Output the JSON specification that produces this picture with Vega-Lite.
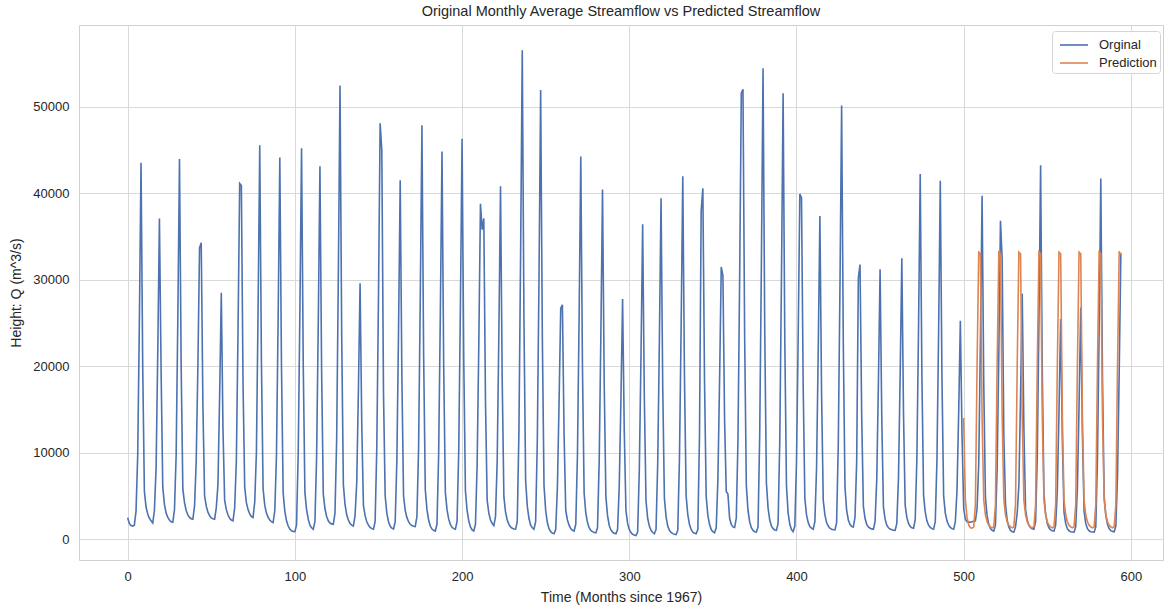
{"$schema":"https://vega.github.io/schema/vega-lite/v6.json","width":1084,"height":535,"autosize":{"type":"none"},"padding":{"left":79,"top":25,"right":1,"bottom":45},"background":"white","title":{"text":"Original Monthly Average Streamflow vs Predicted Streamflow","fontSize":14.5,"font":"Liberation Sans","fontWeight":"normal","color":"#262626","offset":6},
"data":{"values":[
{"m":0,"Orginal":2450},{"m":1,"Orginal":1800},{"m":2,"Orginal":1550},{"m":3,"Orginal":1500},{"m":4,"Orginal":1600},{"m":5,"Orginal":3200},{"m":6,"Orginal":9600},{"m":7,"Orginal":25000},{"m":8,"Orginal":43560},{"m":9,"Orginal":20000},
{"m":10,"Orginal":5500},{"m":11,"Orginal":3700},{"m":12,"Orginal":2900},{"m":13,"Orginal":2400},{"m":14,"Orginal":2100},{"m":15,"Orginal":1850},{"m":16,"Orginal":3300},{"m":17,"Orginal":8200},{"m":18,"Orginal":21500},{"m":19,"Orginal":37100},
{"m":20,"Orginal":19500},{"m":21,"Orginal":6000},{"m":22,"Orginal":4000},{"m":23,"Orginal":3000},{"m":24,"Orginal":2500},{"m":25,"Orginal":2200},{"m":26,"Orginal":2000},{"m":27,"Orginal":1950},{"m":28,"Orginal":3400},{"m":29,"Orginal":9700},
{"m":30,"Orginal":25500},{"m":31,"Orginal":43970},{"m":32,"Orginal":20000},{"m":33,"Orginal":5800},{"m":34,"Orginal":4200},{"m":35,"Orginal":3300},{"m":36,"Orginal":2800},{"m":37,"Orginal":2500},{"m":38,"Orginal":2350},{"m":39,"Orginal":2300},
{"m":40,"Orginal":3800},{"m":41,"Orginal":9000},{"m":42,"Orginal":20000},{"m":43,"Orginal":33700},{"m":44,"Orginal":34300},{"m":45,"Orginal":15500},{"m":46,"Orginal":5000},{"m":47,"Orginal":3800},{"m":48,"Orginal":3100},{"m":49,"Orginal":2700},
{"m":50,"Orginal":2450},{"m":51,"Orginal":2350},{"m":52,"Orginal":2300},{"m":53,"Orginal":3600},{"m":54,"Orginal":6300},{"m":55,"Orginal":16500},{"m":56,"Orginal":28500},{"m":57,"Orginal":12800},{"m":58,"Orginal":4500},{"m":59,"Orginal":3400},
{"m":60,"Orginal":2800},{"m":61,"Orginal":2400},{"m":62,"Orginal":2200},{"m":63,"Orginal":2100},{"m":64,"Orginal":3600},{"m":65,"Orginal":9000},{"m":66,"Orginal":24000},{"m":67,"Orginal":41150},{"m":68,"Orginal":40900},{"m":69,"Orginal":18000},
{"m":70,"Orginal":6000},{"m":71,"Orginal":4200},{"m":72,"Orginal":3400},{"m":73,"Orginal":2900},{"m":74,"Orginal":2600},{"m":75,"Orginal":2500},{"m":76,"Orginal":4300},{"m":77,"Orginal":10000},{"m":78,"Orginal":26500},{"m":79,"Orginal":45580},
{"m":80,"Orginal":20500},{"m":81,"Orginal":5800},{"m":82,"Orginal":3900},{"m":83,"Orginal":3000},{"m":84,"Orginal":2500},{"m":85,"Orginal":2200},{"m":86,"Orginal":2000},{"m":87,"Orginal":1900},{"m":88,"Orginal":3300},{"m":89,"Orginal":9700},
{"m":90,"Orginal":25600},{"m":91,"Orginal":44140},{"m":92,"Orginal":19900},{"m":93,"Orginal":5300},{"m":94,"Orginal":3200},{"m":95,"Orginal":2100},{"m":96,"Orginal":1500},{"m":97,"Orginal":1150},{"m":98,"Orginal":950},{"m":99,"Orginal":870},
{"m":100,"Orginal":850},{"m":101,"Orginal":1600},{"m":102,"Orginal":9900},{"m":103,"Orginal":26200},{"m":104,"Orginal":45230},{"m":105,"Orginal":20400},{"m":106,"Orginal":5400},{"m":107,"Orginal":3400},{"m":108,"Orginal":2300},{"m":109,"Orginal":1600},
{"m":110,"Orginal":1300},{"m":111,"Orginal":1130},{"m":112,"Orginal":2000},{"m":113,"Orginal":9500},{"m":114,"Orginal":25000},{"m":115,"Orginal":43130},{"m":116,"Orginal":19400},{"m":117,"Orginal":5200},{"m":118,"Orginal":3500},{"m":119,"Orginal":2600},
{"m":120,"Orginal":2100},{"m":121,"Orginal":1850},{"m":122,"Orginal":1750},{"m":123,"Orginal":1700},{"m":124,"Orginal":3000},{"m":125,"Orginal":11500},{"m":126,"Orginal":30500},{"m":127,"Orginal":52500},{"m":128,"Orginal":23600},{"m":129,"Orginal":6300},
{"m":130,"Orginal":4000},{"m":131,"Orginal":2800},{"m":132,"Orginal":2200},{"m":133,"Orginal":1800},{"m":134,"Orginal":1600},{"m":135,"Orginal":1500},{"m":136,"Orginal":2700},{"m":137,"Orginal":6500},{"m":138,"Orginal":17200},{"m":139,"Orginal":29590},
{"m":140,"Orginal":13300},{"m":141,"Orginal":3900},{"m":142,"Orginal":2700},{"m":143,"Orginal":2000},{"m":144,"Orginal":1600},{"m":145,"Orginal":1350},{"m":146,"Orginal":1200},{"m":147,"Orginal":1130},{"m":148,"Orginal":2000},{"m":149,"Orginal":10600},
{"m":150,"Orginal":27900},{"m":151,"Orginal":48120},{"m":152,"Orginal":45000},{"m":153,"Orginal":17000},{"m":154,"Orginal":5000},{"m":155,"Orginal":3000},{"m":156,"Orginal":2000},{"m":157,"Orginal":1500},{"m":158,"Orginal":1250},{"m":159,"Orginal":1150},
{"m":160,"Orginal":2000},{"m":161,"Orginal":9100},{"m":162,"Orginal":24100},{"m":163,"Orginal":41530},{"m":164,"Orginal":18700},{"m":165,"Orginal":5000},{"m":166,"Orginal":3300},{"m":167,"Orginal":2500},{"m":168,"Orginal":2000},{"m":169,"Orginal":1700},
{"m":170,"Orginal":1550},{"m":171,"Orginal":1480},{"m":172,"Orginal":1450},{"m":173,"Orginal":2600},{"m":174,"Orginal":10500},{"m":175,"Orginal":27800},{"m":176,"Orginal":47880},{"m":177,"Orginal":21500},{"m":178,"Orginal":5700},{"m":179,"Orginal":3400},
{"m":180,"Orginal":2200},{"m":181,"Orginal":1500},{"m":182,"Orginal":1150},{"m":183,"Orginal":1000},{"m":184,"Orginal":920},{"m":185,"Orginal":1700},{"m":186,"Orginal":9900},{"m":187,"Orginal":26000},{"m":188,"Orginal":44860},{"m":189,"Orginal":20200},
{"m":190,"Orginal":5400},{"m":191,"Orginal":3400},{"m":192,"Orginal":2300},{"m":193,"Orginal":1700},{"m":194,"Orginal":1350},{"m":195,"Orginal":1200},{"m":196,"Orginal":1130},{"m":197,"Orginal":2000},{"m":198,"Orginal":10200},{"m":199,"Orginal":26900},
{"m":200,"Orginal":46310},{"m":201,"Orginal":20800},{"m":202,"Orginal":5600},{"m":203,"Orginal":3300},{"m":204,"Orginal":2100},{"m":205,"Orginal":1400},{"m":206,"Orginal":1050},{"m":207,"Orginal":920},{"m":208,"Orginal":1700},{"m":209,"Orginal":8500},
{"m":210,"Orginal":22500},{"m":211,"Orginal":38800},{"m":212,"Orginal":35800},{"m":213,"Orginal":37100},{"m":214,"Orginal":16000},{"m":215,"Orginal":4500},{"m":216,"Orginal":3000},{"m":217,"Orginal":2200},{"m":218,"Orginal":1800},{"m":219,"Orginal":1550},
{"m":220,"Orginal":2600},{"m":221,"Orginal":9000},{"m":222,"Orginal":23700},{"m":223,"Orginal":40840},{"m":224,"Orginal":18400},{"m":225,"Orginal":4900},{"m":226,"Orginal":3100},{"m":227,"Orginal":2200},{"m":228,"Orginal":1700},{"m":229,"Orginal":1400},
{"m":230,"Orginal":1250},{"m":231,"Orginal":1150},{"m":232,"Orginal":1130},{"m":233,"Orginal":2000},{"m":234,"Orginal":12400},{"m":235,"Orginal":32800},{"m":236,"Orginal":56560},{"m":237,"Orginal":25500},{"m":238,"Orginal":6800},{"m":239,"Orginal":3800},
{"m":240,"Orginal":2400},{"m":241,"Orginal":1600},{"m":242,"Orginal":1300},{"m":243,"Orginal":1130},{"m":244,"Orginal":2000},{"m":245,"Orginal":11400},{"m":246,"Orginal":30100},{"m":247,"Orginal":51980},{"m":248,"Orginal":23400},{"m":249,"Orginal":6200},
{"m":250,"Orginal":3300},{"m":251,"Orginal":1900},{"m":252,"Orginal":1200},{"m":253,"Orginal":850},{"m":254,"Orginal":680},{"m":255,"Orginal":600},{"m":256,"Orginal":1100},{"m":257,"Orginal":5900},{"m":258,"Orginal":15700},{"m":259,"Orginal":26700},
{"m":260,"Orginal":27100},{"m":261,"Orginal":12200},{"m":262,"Orginal":3300},{"m":263,"Orginal":2200},{"m":264,"Orginal":1600},{"m":265,"Orginal":1200},{"m":266,"Orginal":1000},{"m":267,"Orginal":920},{"m":268,"Orginal":1700},{"m":269,"Orginal":9700},
{"m":270,"Orginal":25700},{"m":271,"Orginal":44260},{"m":272,"Orginal":19900},{"m":273,"Orginal":5300},{"m":274,"Orginal":3000},{"m":275,"Orginal":1900},{"m":276,"Orginal":1300},{"m":277,"Orginal":1000},{"m":278,"Orginal":850},{"m":279,"Orginal":760},
{"m":280,"Orginal":720},{"m":281,"Orginal":1300},{"m":282,"Orginal":8900},{"m":283,"Orginal":23500},{"m":284,"Orginal":40440},{"m":285,"Orginal":18200},{"m":286,"Orginal":4900},{"m":287,"Orginal":2700},{"m":288,"Orginal":1600},{"m":289,"Orginal":1050},
{"m":290,"Orginal":800},{"m":291,"Orginal":650},{"m":292,"Orginal":600},{"m":293,"Orginal":1100},{"m":294,"Orginal":6100},{"m":295,"Orginal":16100},{"m":296,"Orginal":27780},{"m":297,"Orginal":12500},{"m":298,"Orginal":3300},{"m":299,"Orginal":1800},
{"m":300,"Orginal":1100},{"m":301,"Orginal":750},{"m":302,"Orginal":550},{"m":303,"Orginal":450},{"m":304,"Orginal":400},{"m":305,"Orginal":800},{"m":306,"Orginal":8000},{"m":307,"Orginal":21100},{"m":308,"Orginal":36420},{"m":309,"Orginal":16400},
{"m":310,"Orginal":4400},{"m":311,"Orginal":2400},{"m":312,"Orginal":1500},{"m":313,"Orginal":1000},{"m":314,"Orginal":750},{"m":315,"Orginal":600},{"m":316,"Orginal":1100},{"m":317,"Orginal":8700},{"m":318,"Orginal":22900},{"m":319,"Orginal":39440},
{"m":320,"Orginal":17700},{"m":321,"Orginal":4700},{"m":322,"Orginal":2600},{"m":323,"Orginal":1500},{"m":324,"Orginal":1000},{"m":325,"Orginal":750},{"m":326,"Orginal":620},{"m":327,"Orginal":550},{"m":328,"Orginal":520},{"m":329,"Orginal":1000},
{"m":330,"Orginal":9200},{"m":331,"Orginal":24300},{"m":332,"Orginal":41970},{"m":333,"Orginal":18900},{"m":334,"Orginal":5000},{"m":335,"Orginal":2800},{"m":336,"Orginal":1700},{"m":337,"Orginal":1100},{"m":338,"Orginal":800},{"m":339,"Orginal":650},
{"m":340,"Orginal":600},{"m":341,"Orginal":1100},{"m":342,"Orginal":12000},{"m":343,"Orginal":38000},{"m":344,"Orginal":40600},{"m":345,"Orginal":18300},{"m":346,"Orginal":4900},{"m":347,"Orginal":2700},{"m":348,"Orginal":1700},{"m":349,"Orginal":1100},
{"m":350,"Orginal":850},{"m":351,"Orginal":720},{"m":352,"Orginal":1300},{"m":353,"Orginal":6900},{"m":354,"Orginal":18300},{"m":355,"Orginal":31480},{"m":356,"Orginal":30500},{"m":357,"Orginal":13700},{"m":358,"Orginal":5500},{"m":359,"Orginal":5200},
{"m":360,"Orginal":2400},{"m":361,"Orginal":1700},{"m":362,"Orginal":1400},{"m":363,"Orginal":1330},{"m":364,"Orginal":2400},{"m":365,"Orginal":11400},{"m":366,"Orginal":30000},{"m":367,"Orginal":51600},{"m":368,"Orginal":52060},{"m":369,"Orginal":23400},
{"m":370,"Orginal":6200},{"m":371,"Orginal":3300},{"m":372,"Orginal":2000},{"m":373,"Orginal":1300},{"m":374,"Orginal":1000},{"m":375,"Orginal":850},{"m":376,"Orginal":800},{"m":377,"Orginal":1400},{"m":378,"Orginal":12000},{"m":379,"Orginal":31600},
{"m":380,"Orginal":54470},{"m":381,"Orginal":24500},{"m":382,"Orginal":6500},{"m":383,"Orginal":3600},{"m":384,"Orginal":2200},{"m":385,"Orginal":1500},{"m":386,"Orginal":1200},{"m":387,"Orginal":1050},{"m":388,"Orginal":1000},{"m":389,"Orginal":1800},
{"m":390,"Orginal":11300},{"m":391,"Orginal":29900},{"m":392,"Orginal":51580},{"m":393,"Orginal":23200},{"m":394,"Orginal":6200},{"m":395,"Orginal":3000},{"m":396,"Orginal":1700},{"m":397,"Orginal":1100},{"m":398,"Orginal":860},{"m":399,"Orginal":1500},
{"m":400,"Orginal":8800},{"m":401,"Orginal":23200},{"m":402,"Orginal":39920},{"m":403,"Orginal":39500},{"m":404,"Orginal":17800},{"m":405,"Orginal":4700},{"m":406,"Orginal":2800},{"m":407,"Orginal":1900},{"m":408,"Orginal":1450},{"m":409,"Orginal":1250},
{"m":410,"Orginal":1130},{"m":411,"Orginal":2000},{"m":412,"Orginal":8200},{"m":413,"Orginal":21700},{"m":414,"Orginal":37390},{"m":415,"Orginal":16800},{"m":416,"Orginal":4500},{"m":417,"Orginal":2800},{"m":418,"Orginal":1900},{"m":419,"Orginal":1500},
{"m":420,"Orginal":1250},{"m":421,"Orginal":1120},{"m":422,"Orginal":1070},{"m":423,"Orginal":1050},{"m":424,"Orginal":1900},{"m":425,"Orginal":11000},{"m":426,"Orginal":29100},{"m":427,"Orginal":50170},{"m":428,"Orginal":22600},{"m":429,"Orginal":6000},
{"m":430,"Orginal":3300},{"m":431,"Orginal":2200},{"m":432,"Orginal":1700},{"m":433,"Orginal":1450},{"m":434,"Orginal":1400},{"m":435,"Orginal":2500},{"m":436,"Orginal":9000},{"m":437,"Orginal":30200},{"m":438,"Orginal":31760},{"m":439,"Orginal":14300},
{"m":440,"Orginal":3800},{"m":441,"Orginal":2400},{"m":442,"Orginal":1700},{"m":443,"Orginal":1400},{"m":444,"Orginal":1250},{"m":445,"Orginal":1170},{"m":446,"Orginal":1130},{"m":447,"Orginal":2000},{"m":448,"Orginal":6900},{"m":449,"Orginal":18100},
{"m":450,"Orginal":31230},{"m":451,"Orginal":14100},{"m":452,"Orginal":3700},{"m":453,"Orginal":2300},{"m":454,"Orginal":1600},{"m":455,"Orginal":1300},{"m":456,"Orginal":1150},{"m":457,"Orginal":1070},{"m":458,"Orginal":1020},{"m":459,"Orginal":1000},
{"m":460,"Orginal":1800},{"m":461,"Orginal":7100},{"m":462,"Orginal":18800},{"m":463,"Orginal":32480},{"m":464,"Orginal":14600},{"m":465,"Orginal":3900},{"m":466,"Orginal":2500},{"m":467,"Orginal":1800},{"m":468,"Orginal":1450},{"m":469,"Orginal":1300},
{"m":470,"Orginal":1250},{"m":471,"Orginal":2200},{"m":472,"Orginal":9300},{"m":473,"Orginal":24500},{"m":474,"Orginal":42250},{"m":475,"Orginal":19000},{"m":476,"Orginal":5100},{"m":477,"Orginal":3100},{"m":478,"Orginal":2100},{"m":479,"Orginal":1600},
{"m":480,"Orginal":1350},{"m":481,"Orginal":1200},{"m":482,"Orginal":1130},{"m":483,"Orginal":2000},{"m":484,"Orginal":9100},{"m":485,"Orginal":24000},{"m":486,"Orginal":41450},{"m":487,"Orginal":18700},{"m":488,"Orginal":5000},{"m":489,"Orginal":3000},
{"m":490,"Orginal":2100},{"m":491,"Orginal":1600},{"m":492,"Orginal":1350},{"m":493,"Orginal":1200},{"m":494,"Orginal":1130},{"m":495,"Orginal":2000},{"m":496,"Orginal":5600},{"m":497,"Orginal":14600},{"m":498,"Orginal":25250},{"m":499,"Orginal":12000},
{"m":500,"Orginal":3500,"Prediction":14000},{"m":501,"Orginal":2300,"Prediction":4500},{"m":502,"Orginal":2000,"Prediction":2500},{"m":503,"Orginal":1950,"Prediction":1600},{"m":504,"Orginal":1950,"Prediction":1300},{"m":505,"Orginal":2000,"Prediction":1250},{"m":506,"Orginal":2050,"Prediction":1400},{"m":507,"Orginal":2100,"Prediction":4000},{"m":508,"Orginal":3500,"Prediction":20000},{"m":509,"Orginal":8700,"Prediction":33200},
{"m":510,"Orginal":23000,"Prediction":33000},{"m":511,"Orginal":39720,"Prediction":14000},{"m":512,"Orginal":17900,"Prediction":4500},{"m":513,"Orginal":4800,"Prediction":2800},{"m":514,"Orginal":2700,"Prediction":2000},{"m":515,"Orginal":1700,"Prediction":1600},{"m":516,"Orginal":1200,"Prediction":1400},{"m":517,"Orginal":1000,"Prediction":1300},{"m":518,"Orginal":920,"Prediction":1400},{"m":519,"Orginal":1600,"Prediction":4000},
{"m":520,"Orginal":8100,"Prediction":20000},{"m":521,"Orginal":21400,"Prediction":33200},{"m":522,"Orginal":36820,"Prediction":33000},{"m":523,"Orginal":32500,"Prediction":14500},{"m":524,"Orginal":12000,"Prediction":4600},{"m":525,"Orginal":4000,"Prediction":2800},{"m":526,"Orginal":2200,"Prediction":2000},{"m":527,"Orginal":1400,"Prediction":1600},{"m":528,"Orginal":1000,"Prediction":1400},{"m":529,"Orginal":850,"Prediction":1300},
{"m":530,"Orginal":800,"Prediction":1400},{"m":531,"Orginal":1400,"Prediction":4000},{"m":532,"Orginal":3000,"Prediction":20000},{"m":533,"Orginal":6200,"Prediction":33200},{"m":534,"Orginal":16500,"Prediction":33000},{"m":535,"Orginal":28380,"Prediction":14200},{"m":536,"Orginal":12800,"Prediction":4500},{"m":537,"Orginal":3400,"Prediction":2800},{"m":538,"Orginal":2200,"Prediction":2000},{"m":539,"Orginal":1600,"Prediction":1600},
{"m":540,"Orginal":1300,"Prediction":1400},{"m":541,"Orginal":1180,"Prediction":1300},{"m":542,"Orginal":1130,"Prediction":1400},{"m":543,"Orginal":2000,"Prediction":4000},{"m":544,"Orginal":9500,"Prediction":20000},{"m":545,"Orginal":25100,"Prediction":33200},{"m":546,"Orginal":43260,"Prediction":33000},{"m":547,"Orginal":19500,"Prediction":14200},{"m":548,"Orginal":5200,"Prediction":4500},{"m":549,"Orginal":2900,"Prediction":2800},
{"m":550,"Orginal":1800,"Prediction":2000},{"m":551,"Orginal":1300,"Prediction":1600},{"m":552,"Orginal":1050,"Prediction":1400},{"m":553,"Orginal":950,"Prediction":1300},{"m":554,"Orginal":920,"Prediction":1400},{"m":555,"Orginal":1600,"Prediction":4000},{"m":556,"Orginal":5600,"Prediction":20000},{"m":557,"Orginal":14800,"Prediction":33200},{"m":558,"Orginal":25450,"Prediction":33000},{"m":559,"Orginal":11500,"Prediction":14200},
{"m":560,"Orginal":3100,"Prediction":4500},{"m":561,"Orginal":1800,"Prediction":2800},{"m":562,"Orginal":1200,"Prediction":2000},{"m":563,"Orginal":950,"Prediction":1600},{"m":564,"Orginal":850,"Prediction":1400},{"m":565,"Orginal":810,"Prediction":1300},{"m":566,"Orginal":800,"Prediction":1400},{"m":567,"Orginal":1400,"Prediction":4000},{"m":568,"Orginal":5900,"Prediction":20000},{"m":569,"Orginal":15500,"Prediction":33200},
{"m":570,"Orginal":26800,"Prediction":33000},{"m":571,"Orginal":12100,"Prediction":14200},{"m":572,"Orginal":3200,"Prediction":4500},{"m":573,"Orginal":1800,"Prediction":2800},{"m":574,"Orginal":1200,"Prediction":2000},{"m":575,"Orginal":950,"Prediction":1600},{"m":576,"Orginal":850,"Prediction":1400},{"m":577,"Orginal":810,"Prediction":1300},{"m":578,"Orginal":800,"Prediction":1400},{"m":579,"Orginal":1400,"Prediction":4000},
{"m":580,"Orginal":9200,"Prediction":20000},{"m":581,"Orginal":24200,"Prediction":33200},{"m":582,"Orginal":41730,"Prediction":33000},{"m":583,"Orginal":18800,"Prediction":14200},{"m":584,"Orginal":5000,"Prediction":4500},{"m":585,"Orginal":2700,"Prediction":2800},{"m":586,"Orginal":1700,"Prediction":2000},{"m":587,"Orginal":1200,"Prediction":1600},{"m":588,"Orginal":970,"Prediction":1400},{"m":589,"Orginal":880,"Prediction":1300},
{"m":590,"Orginal":840,"Prediction":1400},{"m":591,"Orginal":1500,"Prediction":4000},{"m":592,"Orginal":7300,"Prediction":20000},{"m":593,"Orginal":19200,"Prediction":33300},{"m":594,"Orginal":33100,"Prediction":32900}
]},
"transform":[{"fold":["Orginal","Prediction"],"as":["series","q"]},{"filter":"isValid(datum.q)"}],
"mark":{"type":"line","strokeWidth":1.6,"clip":true},
"encoding":{
"x":{"field":"m","type":"quantitative","scale":{"domain":[-29.1,619.2],"nice":false,"zero":false},"axis":{"values":[0,100,200,300,400,500,600],"title":"Time (Months since 1967)","format":"d","titlePadding":7}},
"y":{"field":"q","type":"quantitative","scale":{"domain":[-2430,59490],"nice":false,"zero":false},"axis":{"values":[0,10000,20000,30000,40000,50000],"title":"Height: Q (m^3/s)","format":"d","titlePadding":9}},
"color":{"field":"series","type":"nominal","scale":{"domain":["Orginal","Prediction"],"range":["#4c72b0","#dd8452"]},"legend":{"title":null,"orient":"none","legendX":973,"legendY":6,"symbolType":"M-1.4,0H1.4","symbolStrokeWidth":1.6,"symbolSize":400,"symbolOffset":8,"labelFontSize":13,"labelFont":"Liberation Sans","labelColor":"#262626","padding":3,"strokeColor":"#d5d5d5","cornerRadius":3,"fillColor":"white","rowPadding":-3,"labelOffset":14}}
},
"config":{"view":{"stroke":"#d0d0d0","strokeWidth":1},"axis":{"labelFont":"Liberation Sans","labelFontSize":13,"labelColor":"#262626","titleFont":"Liberation Sans","titleFontSize":14,"titleFontWeight":"normal","titleColor":"#262626","ticks":false,"domain":false,"gridColor":"#d9d9d9","gridWidth":1,"labelPadding":10}}
}
